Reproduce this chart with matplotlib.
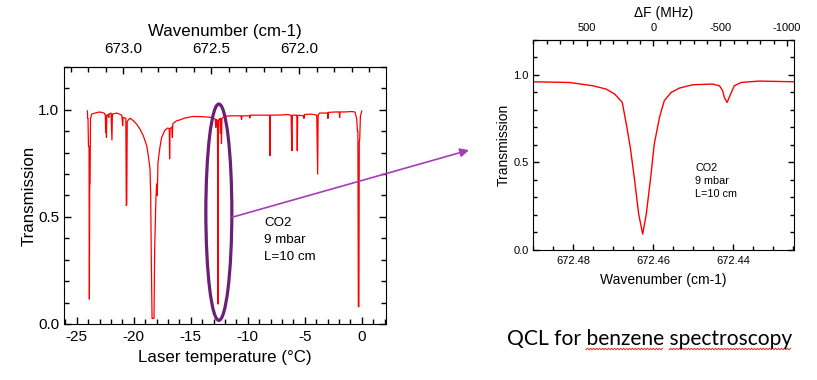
import numpy as np
import matplotlib
matplotlib.use("Agg")
import matplotlib.pyplot as plt
from matplotlib.ticker import MultipleLocator, FixedLocator, FormatStrFormatter
from matplotlib.patches import Ellipse, ConnectionPatch

plt.rcParams['font.family'] = ['Liberation Sans', 'DejaVu Sans']
plt.rcParams['axes.unicode_minus'] = False

# survey scan: laser temperature (degC) vs transmission
temp = [-24.07, -24.05, -24.02, -23.98, -23.93, -23.90, -23.87, -23.84, -23.80, -23.70,
        -23.40, -23.00, -22.60, -22.50, -22.47, -22.44, -22.40, -22.37, -22.25, -22.20,
        -22.17, -22.00, -21.92, -21.88, -21.50, -21.05, -20.98, -20.94, -20.70, -20.66,
        -20.62, -20.58, -20.48, -20.33, -20.04, -19.75, -19.46, -19.17, -18.87, -18.73,
        -18.58, -18.52, -18.46, -18.40, -18.23, -18.17, -18.06, -18.00, -17.94, -17.88,
        -17.71, -17.56, -17.27, -17.03, -16.89, -16.86, -16.82, -16.66, -16.62, -16.58,
        -16.25, -15.95, -15.50, -14.80, -14.00, -13.30, -13.00, -12.85, -12.80, -12.75,
        -12.66, -12.64, -12.61, -12.58, -12.45, -12.40, -12.36, -12.31, -12.27, -12.10,
        -11.60, -11.00, -10.60, -10.55, -10.50, -9.85, -9.82, -9.79, -8.50, -8.08,
        -8.05, -8.02, -7.00, -6.50, -6.20, -6.15, -6.12, -6.09, -5.70, -5.66,
        -5.62, -5.10, -5.07, -5.04, -4.40, -3.95, -3.87, -3.83, -3.70, -3.30,
        -3.00, -2.97, -2.94, -2.30, -1.97, -1.94, -1.91, -1.50, -0.90, -0.60,
        -0.45, -0.38, -0.34, -0.30, -0.25, -0.22, -0.18, -0.12, 0.00]
trans = [0.995, 0.960, 0.960, 0.830, 0.830, 0.116, 0.654, 0.654, 0.960, 0.980,
         0.985, 0.990, 0.985, 0.975, 0.894, 0.975, 0.871, 0.970, 0.980, 0.965,
         0.980, 0.985, 0.859, 0.980, 0.985, 0.975, 0.926, 0.965, 0.960, 0.553,
         0.560, 0.945, 0.953, 0.961, 0.949, 0.933, 0.910, 0.879, 0.833, 0.786,
         0.724, 0.600, 0.274, 0.026, 0.026, 0.352, 0.585, 0.654, 0.600, 0.755,
         0.825, 0.871, 0.905, 0.915, 0.912, 0.771, 0.912, 0.920, 0.871, 0.935,
         0.949, 0.953, 0.962, 0.969, 0.968, 0.965, 0.962, 0.955, 0.918, 0.955,
         0.950, 0.577, 0.093, 0.950, 0.960, 0.890, 0.960, 0.843, 0.960, 0.968,
         0.972, 0.972, 0.972, 0.955, 0.972, 0.972, 0.962, 0.975, 0.975, 0.975,
         0.786, 0.975, 0.976, 0.978, 0.975, 0.850, 0.809, 0.975, 0.975, 0.809,
         0.975, 0.972, 0.960, 0.978, 0.980, 0.975, 0.700, 0.975, 0.985, 0.985,
         0.985, 0.960, 0.988, 0.990, 0.990, 0.965, 0.990, 0.990, 0.992, 0.990,
         0.960, 0.900, 0.900, 0.081, 0.081, 0.850, 0.864, 0.970, 0.995]

# zoomed line: wavenumber (cm-1) vs transmission
wn_zoom = [672.4903, 672.4810, 672.4751, 672.4718, 672.4697, 672.4678, 672.4668, 672.4658,
           672.4647, 672.4637, 672.4627, 672.4618, 672.4608, 672.4598, 672.4585, 672.4573,
           672.4556, 672.4535, 672.4502, 672.4452, 672.4435, 672.4427, 672.4423, 672.4416,
           672.4409, 672.4398, 672.4381, 672.4336, 672.4250]
tr_zoom = [0.960, 0.956, 0.937, 0.918, 0.890, 0.842, 0.719, 0.586,
           0.395, 0.205, 0.091, 0.205, 0.395, 0.605, 0.757, 0.852,
           0.899, 0.924, 0.943, 0.947, 0.937, 0.909, 0.871, 0.842,
           0.880, 0.937, 0.956, 0.964, 0.960]

sample_lines = ["CO2", "9 mbar", "L=10 cm"]
wn_ticks_left = [673.0, 672.5, 672.0]
df_ticks = [500, 0, -500, -1000]

RED = '#ff0000'
ELLIPSE = '#6b1f77'
ARROW = '#a23fb3'

fig = plt.figure(figsize=(8.17, 3.80), dpi=100)
ax1 = fig.add_axes([0.0787, 0.1474, 0.3934, 0.6763])
ax2 = fig.add_axes([0.652, 0.3421, 0.3202, 0.5534])

# temperature -> wavenumber mapping of the survey scan
T0, K = -20.92, 0.0649


def t2wn(t):
    return 673.0 - (np.asarray(t) - T0) * K


def wn2t(w):
    return T0 + (673.0 - np.asarray(w)) / K


C_MHZ = 29979.2458


def wn2df(w):
    return (np.asarray(w) - 672.46) * C_MHZ


def df2wn(f):
    return 672.46 + np.asarray(f) / C_MHZ


# ---- left panel
ax1.plot(temp, trans, color=RED, lw=0.9)
ax1.set_xlim(-26.1, 2.1)
ax1.set_ylim(0, 1.2)
ax1.xaxis.set_major_locator(MultipleLocator(5))
ax1.xaxis.set_minor_locator(MultipleLocator(1))
ax1.yaxis.set_major_locator(FixedLocator([0.0, 0.5, 1.0]))
ax1.yaxis.set_minor_locator(MultipleLocator(0.1))
ax1.yaxis.set_major_formatter(FormatStrFormatter('%.1f'))
ax1.tick_params(which='both', direction='in', right=True, top=False, labelsize=11)
ax1.tick_params(which='major', length=5.3, width=1)
ax1.tick_params(which='minor', length=3.4, width=1)
ax1.tick_params(axis='x', pad=4)
ax1.tick_params(axis='y', pad=3.5)
ax1.set_xlabel('Laser temperature (°C)', fontsize=12.2, labelpad=5)
ax1.set_ylabel('Transmission', fontsize=12.2, labelpad=1.5)

sec1 = ax1.secondary_xaxis('top', functions=(t2wn, wn2t))
sec1.xaxis.set_major_locator(FixedLocator(wn_ticks_left))
sec1.xaxis.set_minor_locator(MultipleLocator(0.1))
sec1.xaxis.set_major_formatter(FormatStrFormatter('%.1f'))
sec1.tick_params(which='both', direction='in', labelsize=11, pad=8)
sec1.tick_params(which='major', length=5.3, width=1)
sec1.tick_params(which='minor', length=3.4, width=1)
sec1.set_xlabel('Wavenumber (cm-1)', fontsize=12.2, labelpad=4)

for i, s in enumerate(sample_lines):
    ax1.text(-8.55, 0.471 - i * 0.079, s, fontsize=9.6, va='center', ha='left')

ax1.add_patch(Ellipse((-12.54, 0.522), width=2.28, height=1.01, fill=False,
                      ec=ELLIPSE, lw=2.3, clip_on=False, zorder=5))

# ---- right panel
ax2.plot(wn_zoom, tr_zoom, color=RED, lw=1.0)
ax2.set_xlim(672.4902, 672.4248)
ax2.set_ylim(0, 1.2)
ax2.xaxis.set_major_locator(MultipleLocator(0.02))
ax2.xaxis.set_minor_locator(MultipleLocator(0.005))
ax2.xaxis.set_major_formatter(FormatStrFormatter('%.2f'))
ax2.yaxis.set_major_locator(FixedLocator([0.0, 0.5, 1.0]))
ax2.yaxis.set_minor_locator(MultipleLocator(0.1))
ax2.yaxis.set_major_formatter(FormatStrFormatter('%.1f'))
ax2.tick_params(which='both', direction='in', right=True, top=False, labelsize=8)
ax2.tick_params(which='major', length=4.5, width=1)
ax2.tick_params(which='minor', length=2.8, width=1)
ax2.tick_params(axis='x', pad=4)
ax2.tick_params(axis='y', pad=3)
ax2.set_xlabel('Wavenumber (cm-1)', fontsize=10, labelpad=5)
ax2.set_ylabel('Transmission', fontsize=10, labelpad=2)

sec2 = ax2.secondary_xaxis('top', functions=(wn2df, df2wn))
sec2.xaxis.set_major_locator(FixedLocator(df_ticks))
sec2.xaxis.set_minor_locator(MultipleLocator(100))
sec2.tick_params(which='both', direction='in', labelsize=8, pad=4.5)
sec2.tick_params(which='major', length=4.5, width=1)
sec2.tick_params(which='minor', length=2.8, width=1)
sec2.set_xlabel('ΔF (MHz)', fontsize=10, labelpad=5)

for i, s in enumerate(sample_lines):
    ax2.text(672.4495, 0.47 - i * 0.076, s, fontsize=7.8, va='center', ha='left')

# arrow from the ellipse to the zoomed panel
arrow = ConnectionPatch(xyA=(-11.40, 0.498), coordsA=ax1.transData,
                        xyB=(0.574, 0.605), coordsB='figure fraction',
                        arrowstyle='-|>', color=ARROW, lw=1.2, mutation_scale=13,
                        zorder=6)
fig.add_artist(arrow)

# caption with spell-check squiggles
CAP_FS = 15.1
cap_x, cap_y = 0.620, 0.092
caption = fig.text(cap_x, cap_y, 'QCL for benzene spectroscopy', fontsize=CAP_FS,
                   family=['Lato', 'DejaVu Sans'], va='baseline')
renderer = fig.canvas.get_renderer()


def prefix_width(s):
    t = fig.text(cap_x, cap_y, s, fontsize=CAP_FS, family=['Lato', 'DejaVu Sans'],
                 va='baseline')
    w = t.get_window_extent(renderer).width
    t.remove()
    return w


x0_px = cap_x * fig.bbox.width
for pre, word in [('QCL for ', 'benzene'), ('QCL for benzene ', 'spectroscopy')]:
    a = x0_px + prefix_width(pre)
    b = x0_px + prefix_width(pre + word)
    xs = np.arange(a, b, 1.5)
    ys = (380 - 349) + np.where(np.arange(len(xs)) % 2 == 0, -0.8, 0.8)
    fig.add_artist(plt.Line2D(xs / fig.bbox.width, ys / fig.bbox.height,
                              transform=fig.transFigure, color='#e03030', lw=0.7))

fig.savefig('out.png', dpi=100)
